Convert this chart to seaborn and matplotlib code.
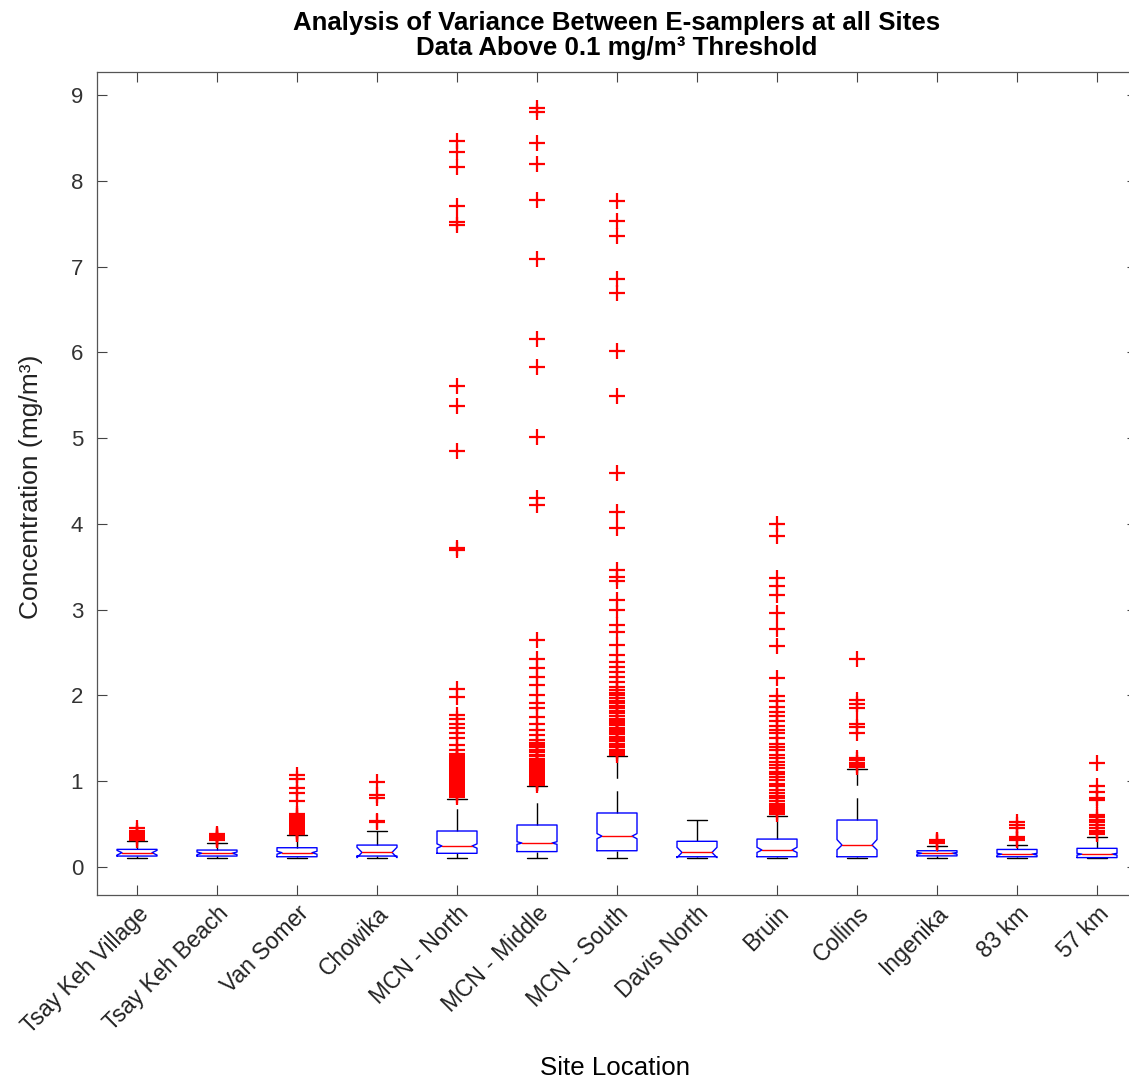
import matplotlib
matplotlib.use("Agg")
import matplotlib.pyplot as plt
import numpy as np
import pandas as pd
import seaborn as sns

sites = ["Tsay Keh Village", "Tsay Keh Beach", "Van Somer", "Chowika",
         "MCN - North", "MCN - Middle", "MCN - South", "Davis North",
         "Bruin", "Collins", "Ingenika", "83 km", "57 km"]

# box statistics per site (mg/m3)
q1 = [0.128, 0.128, 0.120, 0.128, 0.160, 0.180, 0.190, 0.120, 0.120, 0.120, 0.130, 0.120, 0.110]
med = [0.167, 0.160, 0.167, 0.170, 0.245, 0.280, 0.360, 0.170, 0.198, 0.256, 0.160, 0.150, 0.150]
q3 = [0.206, 0.198, 0.225, 0.256, 0.420, 0.490, 0.630, 0.300, 0.326, 0.548, 0.190, 0.205, 0.218]
ci_lo = [0.140, 0.145, 0.150, 0.110, 0.220, 0.265, 0.330, 0.110, 0.170, 0.200, 0.150, 0.140, 0.140]
ci_hi = [0.194, 0.175, 0.184, 0.230, 0.270, 0.295, 0.390, 0.230, 0.230, 0.320, 0.170, 0.160, 0.160]
whisk_lo = [0.10, 0.10, 0.10, 0.10, 0.10, 0.10, 0.10, 0.10, 0.10, 0.10, 0.10, 0.10, 0.10]
whisk_hi = [0.30, 0.28, 0.37, 0.42, 0.79, 0.94, 1.29, 0.55, 0.60, 1.14, 0.25, 0.26, 0.35]

# outlying samples per site
out_tsay_village = [0.32, 0.34, 0.36, 0.38, 0.40, 0.42, 0.45]
out_tsay_beach = [0.31, 0.33, 0.34, 0.35, 0.36, 0.37, 0.38]
out_van_somer = [0.38, 0.39, 0.41, 0.42, 0.43, 0.45, 0.46, 0.48, 0.49, 0.51, 0.52, 0.54,
                 0.55, 0.57, 0.58, 0.60, 0.62, 0.77, 0.86, 0.92, 1.03, 1.07]
out_chowika = [0.52, 0.54, 0.81, 0.84, 0.99]
out_mcn_north = [0.82, 0.84, 0.86, 0.88, 0.90, 0.92, 0.94, 0.96, 0.98, 1.00, 1.02, 1.04,
                 1.06, 1.08, 1.10, 1.12, 1.14, 1.16, 1.18, 1.20, 1.22, 1.25, 1.27, 1.30,
                 1.32, 1.36, 1.42, 1.50, 1.56, 1.62, 1.67, 1.73, 1.77, 1.98, 2.08, 3.69,
                 3.72, 4.85, 5.37, 5.61, 7.48, 7.52, 7.71, 8.16, 8.34, 8.46]
out_mcn_middle = [0.96, 0.98, 1.00, 1.02, 1.04, 1.06, 1.08, 1.10, 1.12, 1.14, 1.17, 1.19,
                  1.21, 1.24, 1.26, 1.29, 1.31, 1.34, 1.37, 1.40, 1.42, 1.45, 1.48, 1.54,
                  1.60, 1.67, 1.75, 1.85, 1.91, 2.00, 2.12, 2.22, 2.32, 2.43, 2.65, 4.22,
                  4.30, 5.01, 5.83, 6.16, 7.09, 7.78, 8.19, 8.44, 8.80, 8.85]
out_mcn_south = [1.31, 1.33, 1.35, 1.37, 1.40, 1.42, 1.44, 1.47, 1.49, 1.52, 1.55, 1.57,
                 1.60, 1.62, 1.65, 1.68, 1.70, 1.73, 1.76, 1.79, 1.82, 1.85, 1.88, 1.91,
                 1.94, 1.97, 2.00, 2.03, 2.06, 2.10, 2.16, 2.22, 2.27, 2.33, 2.39, 2.47,
                 2.59, 2.74, 2.82, 3.00, 3.11, 3.33, 3.38, 3.46, 3.95, 4.14, 4.59, 5.49,
                 6.02, 6.69, 6.86, 7.36, 7.53, 7.76]
out_davis_north = []
out_bruin = [0.62, 0.64, 0.66, 0.69, 0.71, 0.74, 0.77, 0.80, 0.83, 0.86, 0.90, 0.94,
             0.97, 1.01, 1.05, 1.08, 1.11, 1.15, 1.19, 1.23, 1.27, 1.31, 1.36, 1.40,
             1.44, 1.50, 1.56, 1.60, 1.64, 1.70, 1.76, 1.81, 1.87, 1.93, 1.99, 2.20,
             2.58, 2.77, 2.96, 3.17, 3.28, 3.37, 3.86, 4.00]
out_collins = [1.17, 1.19, 1.21, 1.25, 1.27, 1.56, 1.63, 1.67, 1.85, 1.90, 1.95, 2.42]
out_ingenika = [0.28, 0.29, 0.30, 0.31]
out_83km = [0.31, 0.33, 0.35, 0.46, 0.49, 0.52]
out_57km = [0.38, 0.40, 0.42, 0.45, 0.49, 0.52, 0.55, 0.58, 0.61, 0.78, 0.80, 0.88, 0.94, 1.21]

outliers = [out_tsay_village, out_tsay_beach, out_van_somer, out_chowika, out_mcn_north,
            out_mcn_middle, out_mcn_south, out_davis_north, out_bruin, out_collins,
            out_ingenika, out_83km, out_57km]

yticks = [0, 1, 2, 3, 4, 5, 6, 7, 8, 9]

sns.set_theme(style="white")
plt.rcParams["font.family"] = ["Liberation Sans", "DejaVu Sans"]

W, H = 1129, 1082
fig = plt.figure(figsize=(W / 100, H / 100), dpi=100)
ax = fig.add_axes([97 / W, (H - 895) / H, 1040 / W, 823 / H])

positions = np.arange(1, len(sites) + 1)
box_w = 0.5
notch_d = 0.0625
cap_w = 0.25

for i, p in enumerate(positions):
    l, r = p - box_w / 2, p + box_w / 2
    # whiskers (dashed) from box edges outward
    ax.plot([p, p], [q3[i], whisk_hi[i]], color="black", lw=1.0,
            linestyle=(0, (16, 9)), zorder=2)
    ax.plot([p, p], [q1[i], whisk_lo[i]], color="black", lw=1.0,
            linestyle=(0, (16, 9)), zorder=2)
    # whisker caps
    ax.plot([p - cap_w / 2, p + cap_w / 2], [whisk_hi[i]] * 2, color="black", lw=1.0, zorder=2)
    ax.plot([p - cap_w / 2, p + cap_w / 2], [whisk_lo[i]] * 2, color="black", lw=1.0, zorder=2)
    # notched box outline
    bx = [l, r, r, r - notch_d, r, r, l, l, l + notch_d, l, l]
    by = [q1[i], q1[i], ci_lo[i], med[i], ci_hi[i], q3[i], q3[i], ci_hi[i], med[i], ci_lo[i], q1[i]]
    ax.plot(bx, by, color="#0000ff", lw=1.0, zorder=3)
    # median
    ax.plot([l + notch_d, r - notch_d], [med[i]] * 2, color="#ff0000", lw=1.0, zorder=4)

df_out = pd.DataFrame({
    "pos": np.concatenate([[p] * len(o) for p, o in zip(positions, outliers)]),
    "value": np.concatenate([o for o in outliers if len(o)]),
})
sns.scatterplot(data=df_out, x="pos", y="value", marker="+", color="#ff0000",
                s=120, linewidth=1.6, ax=ax, zorder=5, legend=False)

ax.set_xlim(0.5, 13.5)
ax.set_ylim(-0.326, 9.268)
ax.set_xticks(positions)
ax.set_xticklabels(sites, rotation=45, ha="right", va="top", rotation_mode="anchor",
                   fontsize=16.5, color="#222222")
ax.set_yticks(yticks)
ax.set_yticklabels([str(v) for v in yticks], fontsize=16, color="#333333")
ax.tick_params(axis="both", direction="in", length=7, width=0.8, color="#444444",
               top=True, right=True, bottom=True, left=True)
ax.tick_params(axis="y", pad=10)
ax.tick_params(axis="x", pad=5)
for s in ax.spines.values():
    s.set_color("#555555")
    s.set_linewidth(0.9)
ax.set_xlabel("")
ax.set_ylabel("")

ax.set_title("Analysis of Variance Between E-samplers at all Sites\n"
             "Data Above 0.1 mg/m\u00b3 Threshold",
             fontsize=18.6, fontweight="bold", color="black", pad=12, linespacing=1.05)
fig.text(31 / W, 1 - 487 / H, "Concentration (mg/m\u00b3)", rotation=90,
         ha="center", va="center", fontsize=19, color="#222222")
fig.text(615 / W, 1 - 1068 / H, "Site Location", ha="center", va="center",
         fontsize=18.6, color="black")

fig.savefig("out.png", dpi=100)
